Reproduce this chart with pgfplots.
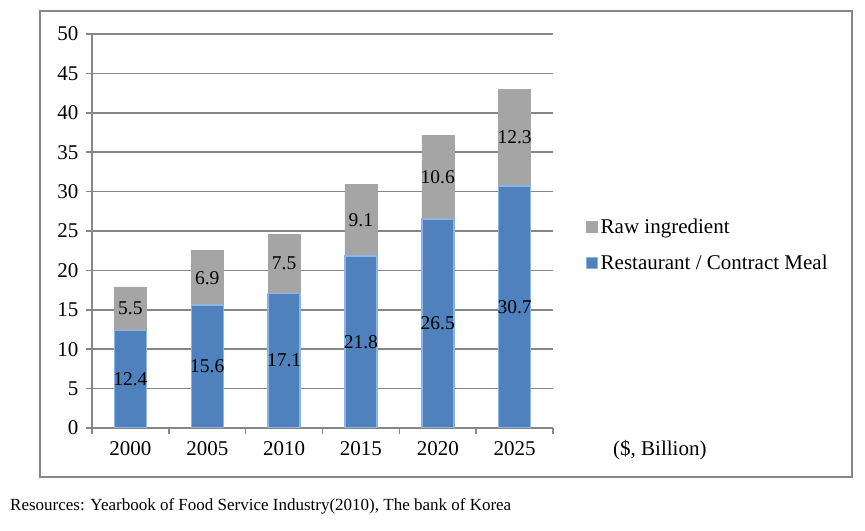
\documentclass[border=0pt]{standalone}
\usepackage{pgfplots}
\usepackage{pgfplotstable}
\pgfplotsset{compat=1.18}
\usepackage{fontspec}
\setmainfont{Liberation Serif}
\definecolor{barblue}{HTML}{4F81BD}
\definecolor{edgeblue}{HTML}{8DB4E2}
\definecolor{bargray}{HTML}{A5A5A5}
\definecolor{gridgray}{HTML}{868686}
\pgfplotstableread{
x rest raw
0 12.4 5.5
1 15.6 6.9
2 17.1 7.5
3 21.8 9.1
4 26.5 10.6
5 30.7 12.3
}\datatable
\pgfplotstableread{
x y label
0 6.2 12.4
1 7.8 15.6
2 8.55 17.1
3 10.9 21.8
4 13.25 26.5
5 15.35 30.7
0 15.15 5.5
1 19.05 6.9
2 20.85 7.5
3 26.35 9.1
4 31.8 10.6
5 36.85 12.3
}\labeltable
\pgfplotsset{
  base/.style={scale only axis, width=461bp, height=394bp,
    xmin=-0.5, xmax=5.5, ymin=0, ymax=50,
    at={(92bp,103bp)}, anchor=south west}
}
\begin{document}
\begin{tikzpicture}
\path (0,0) rectangle (865bp,531bp);
\draw[gridgray, line width=1.5bp] (40bp,54bp) rectangle (852bp,520bp);
\begin{axis}[base,
  ybar stacked, bar width=32bp,
  axis lines*=left,
  axis line style={gridgray, line width=1.5bp},
  tick align=outside,
  major tick length=6bp, minor tick length=6bp,
  tick style={gridgray, line width=1.5bp},
  ytick={0,5,...,50},
  ymajorgrids, grid style={gridgray, line width=1.5bp},
  xtick={0,...,5}, xticklabels={2000,2005,2010,2015,2020,2025},
  major x tick style={draw=none},
  minor xtick={-0.5,0.5,...,5.5},
  ticklabel style={font=\fontsize{21bp}{25bp}\selectfont, text=black},
  yticklabel style={xshift=-4bp},
  xticklabel style={yshift=-4bp},
  /pgf/number format/assume math mode=true,
  reverse legend,
  legend style={at={(axis description cs:1.0716,0.537)}, anchor=north west,
    draw=none, fill=none, inner sep=0pt, row sep=15bp,
    font=\fontsize{21bp}{25bp}\selectfont, nodes={inner sep=2.5bp}},
  legend cell align=left,
  legend image code/.code={\draw[#1, line width=1bp] (0bp,-5.5bp) rectangle (11bp,5.5bp);},
]
\addplot[fill=barblue, draw=edgeblue, line width=1.5bp] table[x=x, y=rest] {\datatable};
\addlegendentry{Restaurant / Contract Meal}
\addplot[fill=bargray, draw=bargray, line width=0.5bp] table[x=x, y=raw] {\datatable};
\addlegendentry{Raw ingredient}
\end{axis}
\begin{axis}[base, hide axis]
\addplot[only marks, mark=none, nodes near coords, point meta=explicit symbolic,
  every node near coord/.style={anchor=center, inner sep=0pt, font=\fontsize{19.5bp}{23bp}\selectfont, text=black}]
  table[x=x, y=y, meta=label] {\labeltable};
\end{axis}
\node[anchor=west, inner sep=0pt, font=\fontsize{21bp}{25bp}\selectfont] at (613bp,81bp) {(\$, Billion)};
\node[anchor=west, inner sep=0pt, font=\fontsize{17bp}{20bp}\selectfont] at (10bp,25bp) {Resources: Yearbook of Food Service Industry(2010), The bank of Korea};
\end{tikzpicture}
\end{document}
